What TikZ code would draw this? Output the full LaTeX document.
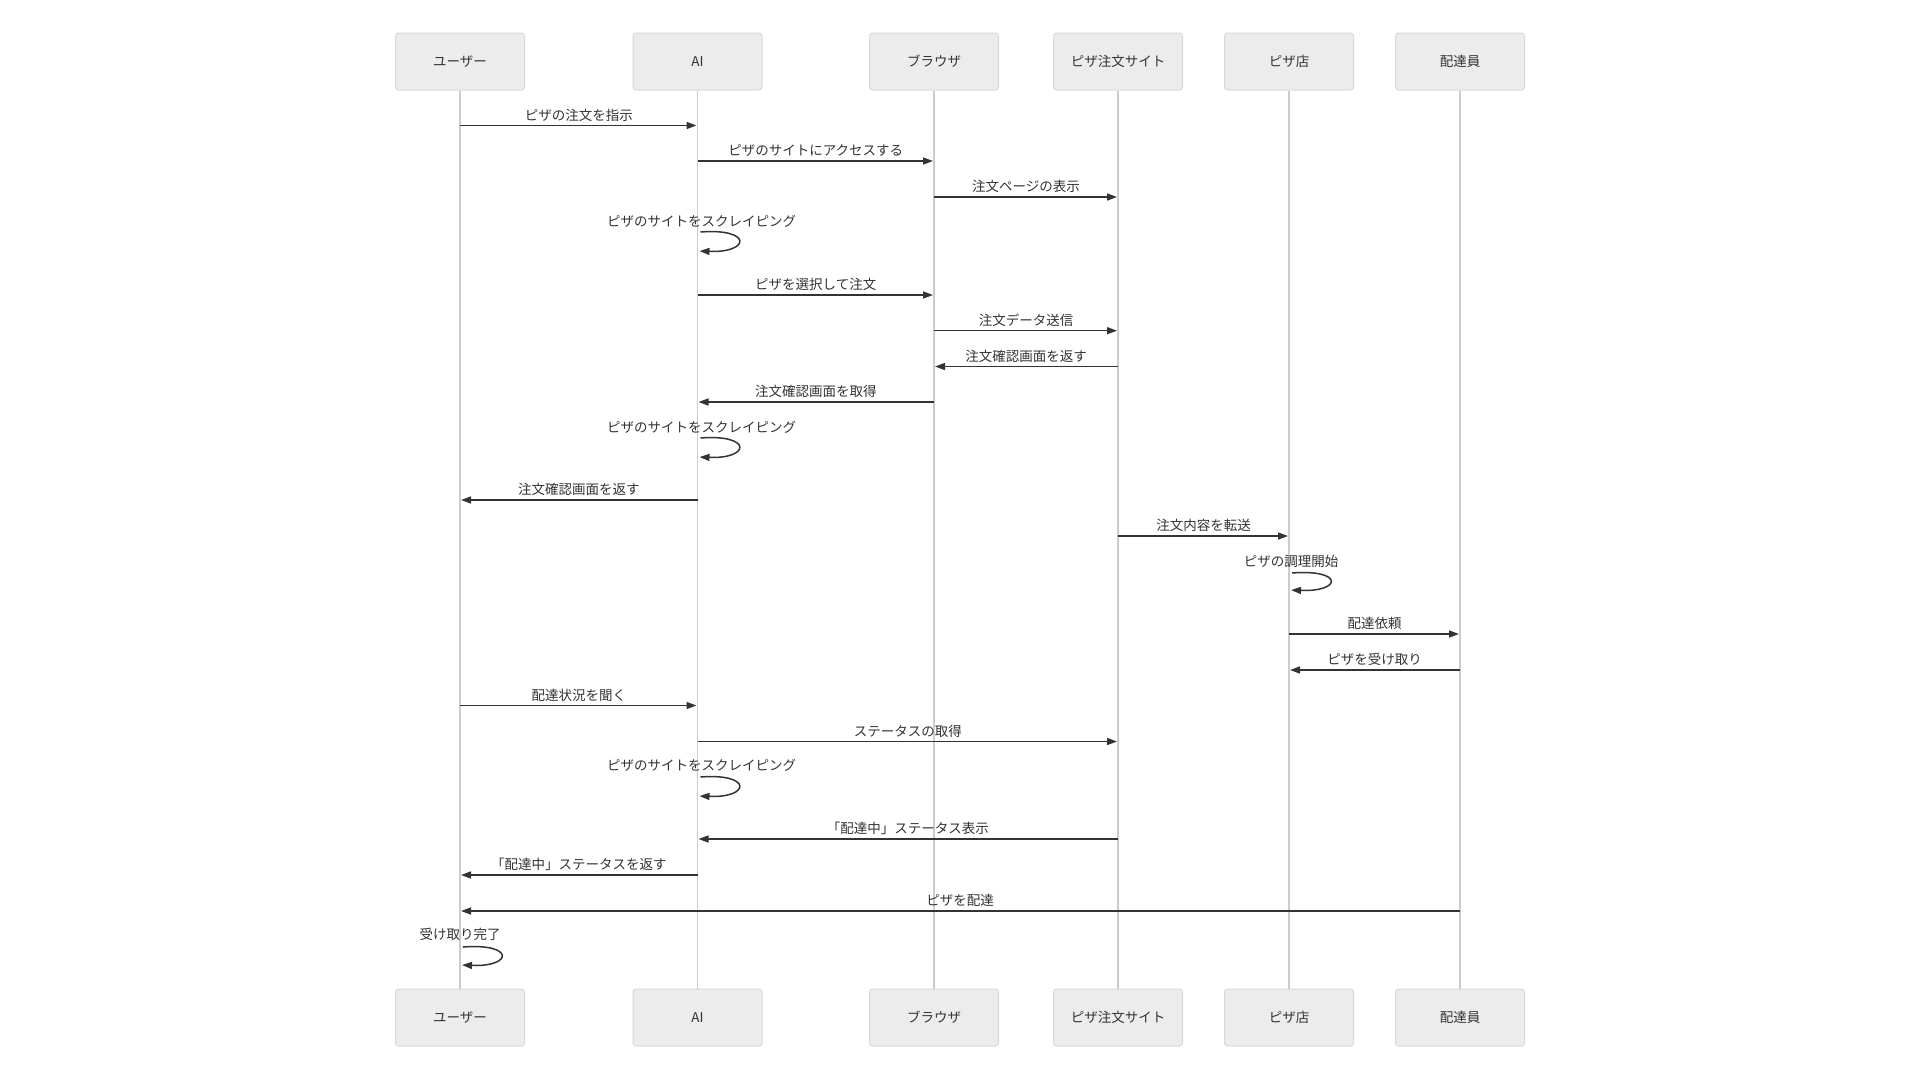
\documentclass[tikz,border=0pt]{standalone}
\usepackage{fontspec}
\setmainfont{Noto Sans CJK JP}
\usetikzlibrary{arrows.meta}
\definecolor{boxfill}{HTML}{ECECEC}
\definecolor{boxdraw}{HTML}{D9D9D9}
\definecolor{lifecol}{HTML}{CCCCCC}
\definecolor{msgcol}{HTML}{333333}
\begin{document}
\begin{tikzpicture}[x=1pt,y=-1pt,
  actor/.style={draw=boxdraw, fill=boxfill, rounded corners=3pt, minimum width=129pt, minimum height=57pt, line width=1pt, font=\fontsize{13.5}{16}\selectfont, text=msgcol},
  life/.style={draw=lifecol, line width=1.5pt},
  msg/.style={draw=msgcol, line width=1.5pt, shorten >=1pt, -{Triangle[length=10pt,width=7pt]}},
  lbl/.style={font=\fontsize{13.5}{16}\selectfont, text=msgcol, inner sep=0pt}]
\useasboundingbox (0,0) rectangle (1920,1080);
\fill[white] (0,0) rectangle (1920,1080);
% actors top
\node[actor] (u)    at (460,61.5)  {ユーザー};
\node[actor] (ai)   at (697.5,61.5) {AI};
\node[actor] (br)   at (934,61.5)  {ブラウザ};
\node[actor] (site) at (1118,61.5) {ピザ注文サイト};
\node[actor] (shop) at (1289,61.5) {ピザ店};
\node[actor] (dr)   at (1460,61.5) {配達員};
% actors bottom
\node[actor] (u2)    at (460,1017.5)  {ユーザー};
\node[actor] (ai2)   at (697.5,1017.5) {AI};
\node[actor] (br2)   at (934,1017.5)  {ブラウザ};
\node[actor] (site2) at (1118,1017.5) {ピザ注文サイト};
\node[actor] (shop2) at (1289,1017.5) {ピザ店};
\node[actor] (dr2)   at (1460,1017.5) {配達員};
% lifelines
\draw[life] (u) -- (u2);
\draw[life] (ai) -- (ai2);
\draw[life] (br) -- (br2);
\draw[life] (site) -- (site2);
\draw[life] (shop) -- (shop2);
\draw[life] (dr) -- (dr2);
% messages
\draw[msg] (u |- 0,125.5) -- (ai |- 0,125.5) node[lbl,midway,yshift=10.5pt] {ピザの注文を指示};
\draw[msg] (ai |- 0,161) -- (br |- 0,161) node[lbl,midway,yshift=10.5pt] {ピザのサイトにアクセスする};
\draw[msg] (br |- 0,197) -- (site |- 0,197) node[lbl,midway,yshift=10.5pt] {注文ページの表示};
\node[lbl] (s1) at ([xshift=4pt]ai |- 0,221.5) {ピザのサイトをスクレイピング};
\draw[msg] ([xshift=3pt]ai |- 0,232) .. controls +(52,-4) and +(52,2) .. ([xshift=1pt]ai |- 0,251);
\draw[msg] (ai |- 0,295) -- (br |- 0,295) node[lbl,midway,yshift=10.5pt] {ピザを選択して注文};
\draw[msg] (br |- 0,330.7) -- (site |- 0,330.7) node[lbl,midway,yshift=10.5pt] {注文データ送信};
\draw[msg] (site |- 0,366.5) -- (br |- 0,366.5) node[lbl,midway,yshift=10.5pt] {注文確認画面を返す};
\draw[msg] (br |- 0,402) -- (ai |- 0,402) node[lbl,midway,yshift=10.5pt] {注文確認画面を取得};
\node[lbl] (s2) at ([xshift=4pt]ai |- 0,427) {ピザのサイトをスクレイピング};
\draw[msg] ([xshift=3pt]ai |- 0,438) .. controls +(52,-4) and +(52,2) .. ([xshift=1pt]ai |- 0,457);
\draw[msg] (ai |- 0,500) -- (u |- 0,500) node[lbl,midway,yshift=10.5pt] {注文確認画面を返す};
\draw[msg] (site |- 0,536) -- (shop |- 0,536) node[lbl,midway,yshift=10.5pt] {注文内容を転送};
\node[lbl] (s3) at ([xshift=2pt]shop |- 0,561) {ピザの調理開始};
\draw[msg] ([xshift=3pt]shop |- 0,573) .. controls +(52,-4) and +(52,2) .. ([xshift=1pt]shop |- 0,590);
\draw[msg] (shop |- 0,634) -- (dr |- 0,634) node[lbl,midway,yshift=10.5pt] {配達依頼};
\draw[msg] (dr |- 0,670) -- (shop |- 0,670) node[lbl,midway,yshift=10.5pt] {ピザを受け取り};
\draw[msg] (u |- 0,705.5) -- (ai |- 0,705.5) node[lbl,midway,yshift=10.5pt] {配達状況を聞く};
\draw[msg] (ai |- 0,741.5) -- (site |- 0,741.5) node[lbl,midway,yshift=10.5pt] {ステータスの取得};
\node[lbl] (s4) at ([xshift=4pt]ai |- 0,765) {ピザのサイトをスクレイピング};
\draw[msg] ([xshift=3pt]ai |- 0,777) .. controls +(52,-4) and +(52,2) .. ([xshift=1pt]ai |- 0,796);
\draw[msg] (site |- 0,839) -- (ai |- 0,839) node[lbl,midway,yshift=10.5pt] {「配達中」ステータス表示};
\draw[msg] (ai |- 0,875) -- (u |- 0,875) node[lbl,midway,yshift=10.5pt] {「配達中」ステータスを返す};
\draw[msg] (dr |- 0,911) -- (u |- 0,911) node[lbl,midway,yshift=10.5pt] {ピザを配達};
\node[lbl] (s5) at (u |- 0,934.5) {受け取り完了};
\draw[msg] ([xshift=3pt]u |- 0,947) .. controls +(52,-4) and +(52,2) .. ([xshift=1pt]u |- 0,965);
\end{tikzpicture}
\end{document}
